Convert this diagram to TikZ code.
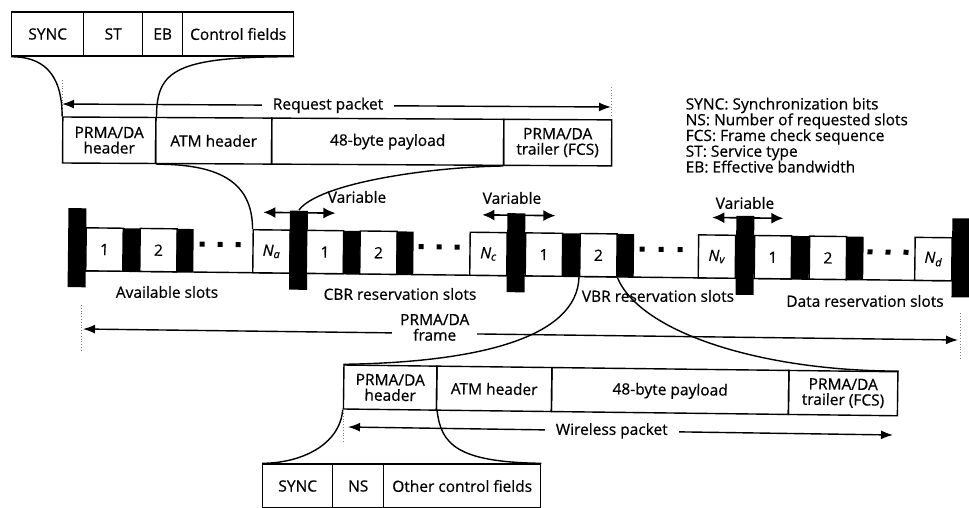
\documentclass[tikz,border=0pt]{standalone}
\usepackage{fontspec}
\setmainfont{Open Sans}[FakeBold=0.6]
\usetikzlibrary{arrows.meta}
\begin{document}
\begin{tikzpicture}[x=1pt,y=-1pt,
  font=\fontsize{15.5}{15.5}\selectfont,
  line width=1.4pt,
  cell/.style={draw, line width=1.4pt, minimum height=44pt, inner sep=0pt, align=center, anchor=west},
  slot/.style={draw, line width=1.4pt, minimum width=37pt, minimum height=43pt, inner sep=0pt, fill=white},
  bar/.style={fill=black, minimum width=17pt, minimum height=43pt, inner sep=0pt},
  tall/.style={fill=black, minimum width=18pt, minimum height=79pt, inner sep=0pt},
  curve/.style={line width=1.4pt},
  dim/.style={line width=1.4pt, {Latex[length=12pt,width=9pt]}-{Latex[length=12pt,width=9pt]}},
  varr/.style={line width=1.6pt, {Latex[length=12pt,width=11pt]}-{Latex[length=12pt,width=11pt]}},
  ext/.style={dotted, line width=0.8pt, gray},
  lbl/.style={inner sep=0pt}]

\useasboundingbox (0,0) rectangle (969,508);

% ---- top header fields
\node[cell, minimum width=72pt] (sync) at (11,34) {SYNC};
\node[cell, minimum width=59pt] (st) at (83,34) {ST};
\node[cell, minimum width=40pt] (eb) at (142,34) {EB};
\node[cell, minimum width=111pt] (cf) at (182,34) {Control fields};

% ---- request packet
\begin{scope}[rotate around={-0.3:(62,140)}, transform shape]
\node[cell, minimum width=93pt, minimum height=46pt] (rh) at (62,140) {PRMA/DA\\header};
\node[cell, minimum width=116pt, minimum height=46pt] (ratm) at (155,140) {ATM header};
\node[cell, minimum width=232pt, minimum height=46pt] (rpay) at (271,140) {48-byte payload};
\node[cell, minimum width=108pt, minimum height=46pt] (rtr) at (503,140) {PRMA/DA\\trailer (FCS)};
\end{scope}

\draw[ext] (62,80) -- (62,114);
\draw[ext] (611,87) -- (611,117);
\coordinate (ql) at (62,104);
\coordinate (qr) at (611,107);
\draw[dim] (ql) -- (qr) node[pos=0.4845, fill=white, inner xsep=11pt, inner ysep=1pt] (qlab) {Request packet};

% ---- legend
\node[anchor=north west, align=left, inner sep=0pt, font=\fontsize{15.5}{15.75}\selectfont] (legend) at (685,97)
 {SYNC: Synchronization bits\\NS: Number of requested slots\\FCS: Frame check sequence\\ST: Service type\\EB: Effective bandwidth};

% ---- frame row
\begin{scope}[rotate around={-0.66:(190,250)}, transform shape]
\draw[line width=1.4pt] (86,272) -- (952,272);
\node[tall] (A) at (77,249) {};
\node[slot] (a1) at (104.5,250.5) {1};
\node[bar] (ab1) at (131.5,250.5) {};
\node[slot] (a2) at (158.5,250.5) {2};
\node[bar] (ab2) at (185,250.5) {};
\foreach \x in {202,220,238} \fill (\x-2.5,241.5) rectangle +(5,5);
\node[slot] (na) at (271.5,250.5) {\textit{N}\textsubscript{\textit{a}}};
\node[tall] (B) at (298.5,249) {};
\node[slot] (c1) at (325,250.5) {1};
\node[bar] (cb1) at (351.5,250.5) {};
\node[slot] (c2) at (378.5,250.5) {2};
\node[bar] (cb2) at (405,250.5) {};
\foreach \x in {421,439,457} \fill (\x-2.5,241.5) rectangle +(5,5);
\node[slot] (nc) at (488.5,250.5) {\textit{N}\textsubscript{\textit{c}}};
\node[tall] (C) at (516,249) {};
\node[slot] (v1) at (544,250.5) {1};
\node[bar] (vb1) at (571.5,250.5) {};
\node[slot] (v2) at (598.5,250.5) {2};
\node[bar] (vb2) at (625.5,250.5) {};
\foreach \x in {642,661,680} \fill (\x-2.5,241.5) rectangle +(5,5);
\node[slot] (nv) at (717,250.5) {\textit{N}\textsubscript{\textit{v}}};
\node[tall] (D) at (745,249) {};
\node[slot] (d1) at (773,250.5) {1};
\node[bar] (db1) at (800.5,250.5) {};
\node[slot] (d2) at (828,250.5) {2};
\node[bar] (db2) at (855,250.5) {};
\foreach \x in {870,888,906} \fill (\x-2.5,241.5) rectangle +(5,5);
\node[slot] (nd) at (933.5,250.5) {\textit{N}\textsubscript{\textit{d}}};
\node[tall] (E) at (961,249) {};
\coordinate (vbl) at (263,211.5); \coordinate (vbr) at (335,211.5);
\coordinate (vcl) at (482,211.5); \coordinate (vcr) at (555,211.5);
\coordinate (vdl) at (712,211.5); \coordinate (vdr) at (783,211.5);
\draw[varr] (vbl) -- (vbr);
\draw[varr] (vcl) -- (vcr);
\draw[varr] (vdl) -- (vdr);
\end{scope}

\node[lbl] (varB) at (357,197) {Variable};
\node[lbl] (varC) at (512,198) {Variable};
\node[lbl] (varD) at (745,203) {Variable};

\node[lbl] (avail) at (167,292) {Available slots};
\node[lbl] (cbr) at (400,294) {CBR reservation slots};
\node[lbl] (vbr) at (658,296) {VBR reservation slots};
\node[lbl] (data) at (865,301) {Data reservation slots};

% ---- frame arrow
\draw[ext] (81,305) -- (81,350);
\draw[ext] (960,313) -- (960,360);
\coordinate (fl) at (83,329);
\coordinate (fr) at (958,340);
\draw[dim] (fl) -- (fr) node[pos=0.402, yshift=6pt, fill=white, align=center, inner xsep=8pt, inner ysep=1pt] (flab) {PRMA/DA\\frame};

% ---- wireless packet
\begin{scope}[rotate around={-0.7:(343,387)}, transform shape]
\node[cell, minimum width=93pt] (bh) at (343,387) {PRMA/DA\\header};
\node[cell, minimum width=115pt] (batm) at (436,387) {ATM header};
\node[cell, minimum width=237pt] (bpay) at (551,387) {48-byte payload};
\node[cell, minimum width=109pt] (btr) at (788,387) {PRMA/DA\\trailer (FCS)};
\end{scope}

\draw[ext] (343,413) -- (343,442);
\coordinate (wl) at (348,427);
\coordinate (wr) at (893,435);
\draw[dim] (wl) -- (wr) node[pos=0.484, fill=white, inner xsep=11pt, inner ysep=1pt] (wlab) {Wireless packet};

% ---- bottom fields
\node[cell, minimum width=70pt] (sync2) at (262,486) {SYNC};
\node[cell, minimum width=51pt] (ns) at (332,486) {NS};
\node[cell, minimum width=157pt] (ocf) at (383,486) {Other control fields};

% ---- expansion curves
\draw[curve] (sync.south west) .. controls +(30,0) and +(0,-45) .. (rh.north west);
\draw[curve] (cf.south east) .. controls +(-118,0) and +(0,-47) .. (rh.north east);
\draw[curve] (rh.south east) .. controls +(60,0) and +(0,-49) .. (na.north west);
\draw[curve] (rtr.south west) .. controls +(-73,1) and +(20,-27) .. (B.north);
\draw[curve] (v2.south west) .. controls +(-2,60) and +(137,-2) .. (bh.north west);
\draw[curve] (v2.south east) .. controls +(23,55) and +(-137,0) .. (btr.north east);
\draw[curve] (bh.south west) .. controls +(-3,36) and +(38,0) .. (sync2.north west);
\draw[curve] (bh.south east) .. controls +(4,33) and +(-85,-1) .. (ocf.north east);
\end{tikzpicture}
\end{document}
